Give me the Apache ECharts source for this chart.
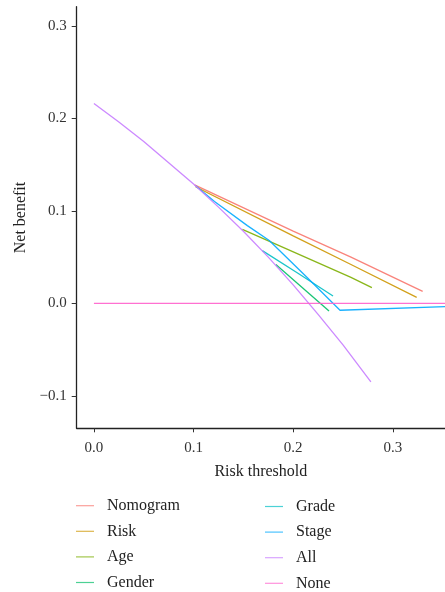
<!DOCTYPE html>
<html>
<head>
<meta charset="utf-8">
<script src="https://cdn.jsdelivr.net/npm/echarts@6/dist/echarts.min.js"></script>
<style>html,body{margin:0;padding:0;background:#fff}#c{width:445px;height:592px}</style>
</head>
<body>
<div id="c"></div>
<script>
// ---- data ----
const seriesNames = ['Nomogram','Risk','Age','Gender','Grade','Stage','All','None'];
const seriesColors = ['#F8766D','#CD9600','#7CAE00','#00BE67','#00BFC4','#00A9FF','#C77CFF','#FF61CC'];
const xTicks = [0, 0.1, 0.2, 0.3];
const yTicks = [-0.1, 0, 0.1, 0.2, 0.3];

const nomogramPts = [[0.101,0.128],[0.200,0.078],[0.258,0.050],[0.330,0.013]];
const riskPts     = [[0.102,0.126],[0.200,0.073],[0.258,0.042],[0.324,0.0065]];
const agePts      = [[0.149,0.080],[0.258,0.028],[0.279,0.017]];
const genderPts   = [[0.1826,0.042],[0.236,-0.0083]];
const gradePts    = [[0.169,0.057],[0.204,0.033],[0.240,0.008]];
const stagePts    = [[0.102,0.127],[0.121,0.110],[0.154,0.084],[0.176,0.068],[0.214,0.028],[0.247,-0.0075],[0.360,-0.0033]];
const allPts      = [[0,0.216],[0.025,0.196],[0.05,0.175],[0.075,0.152],[0.1,0.129],[0.125,0.104],[0.15,0.078],[0.175,0.050],[0.2,0.020],[0.225,-0.012],[0.25,-0.045],[0.278,-0.085]];
const nonePts     = [[0,0],[0.36,0]];

const seriesData = [nomogramPts, riskPts, agePts, genderPts, gradePts, stagePts, allPts, nonePts];

const FONT = 'Liberation Serif';
const chart = echarts.init(document.getElementById('c'), null, {renderer:'canvas'});

const legendCommon = {
  orient: 'vertical',
  padding: 0,
  itemWidth: 18,
  itemHeight: 16,
  itemGap: 9.6,
  icon: 'path://M0,7.4 L18,7.4 L18,8.6 L0,8.6 Z',
  textStyle: {fontFamily: FONT, fontSize: 16, color: '#222', padding: [0,0,0,8], lineHeight: 16}
};

chart.setOption({
  animation: false,
  color: seriesColors,
  grid: {left: 76.7, right: 0, top: 6.7, bottom: 163.7, containLabel: false},
  xAxis: {
    type: 'value', min: -0.0173, max: 0.3524,
    name: 'Risk threshold', nameLocation: 'middle', nameGap: 35,
    nameTextStyle: {fontFamily: FONT, fontSize: 16, color: '#222'},
    axisLine: {show: true, onZero: false, lineStyle: {color: '#222', width: 1.3}},
    axisTick: {show: true, length: 4, customValues: xTicks, lineStyle: {color: '#333'}},
    axisLabel: {customValues: xTicks, margin: 12, fontFamily: FONT, fontSize: 15, color: '#333',
      formatter: v => v.toFixed(1)},
    splitLine: {show: false}
  },
  yAxis: {
    type: 'value', min: -0.1351, max: 0.3207,
    name: 'Net benefit', nameLocation: 'middle', nameGap: 48, nameRotate: 90,
    nameTextStyle: {fontFamily: FONT, fontSize: 16, color: '#222'},
    axisLine: {show: true, onZero: false, lineStyle: {color: '#222', width: 1.3}},
    axisTick: {show: true, length: 5, customValues: yTicks, lineStyle: {color: '#333'}},
    axisLabel: {customValues: yTicks, margin: 10, fontFamily: FONT, fontSize: 15, color: '#333',
      formatter: v => (v < 0 ? '\u2212' + Math.abs(v).toFixed(1) : v.toFixed(1))},
    splitLine: {show: false}
  },
  legend: [
    Object.assign({left: 76, top: 497.7, data: seriesNames.slice(0,4)}, legendCommon),
    Object.assign({left: 265, top: 498.5, data: seriesNames.slice(4)}, legendCommon)
  ],
  series: seriesNames.map((n, i) => ({
    name: n, type: 'line', data: seriesData[i], symbol: 'none', smooth: false,
    clip: true,
    lineStyle: {width: 1.3, color: seriesColors[i], opacity: 0.9},
    itemStyle: {color: seriesColors[i], opacity: 0.7}
  }))
});
</script>
</body>
</html>
